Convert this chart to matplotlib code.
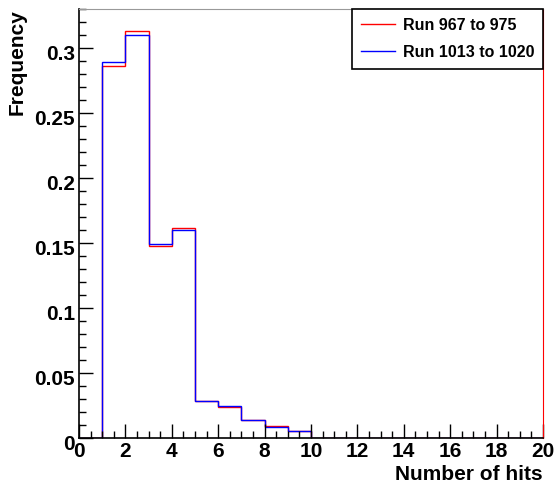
import numpy as np
import matplotlib
matplotlib.use("Agg")
import matplotlib.pyplot as plt
from matplotlib.ticker import MultipleLocator
import matplotlib.transforms as mtransforms

# hit multiplicity, one bin per integer, normalised per run group
bin_edges = np.arange(0, 21)
freq_967_975 = [0.0, 0.2860, 0.3133, 0.1480, 0.1615, 0.0285, 0.0240, 0.0140, 0.0095, 0.0059,
                0, 0, 0, 0, 0, 0, 0, 0, 0, 0]
freq_1013_1020 = [0.0, 0.2895, 0.3100, 0.1495, 0.1600, 0.0285, 0.0246, 0.0140, 0.0087, 0.0059,
                  0, 0, 0, 0, 0, 0, 0, 0, 0, 0]
labels = ["Run 967 to 975", "Run 1013 to 1020"]

plt.rcParams['font.family'] = ['Liberation Sans', 'DejaVu Sans']
plt.rcParams['font.weight'] = 'bold'

fig = plt.figure(figsize=(5.56, 4.86), dpi=100)
ax = fig.add_axes([79/556, 47.7/486, 464/556, 429.3/486])

ax.stairs(freq_967_975, bin_edges, color='#ff0000', lw=1.0, label=labels[0])
ax.stairs(freq_1013_1020, bin_edges, color='#0000ff', lw=1.0, label=labels[1])

ax.set_xlim(0, 20)
ax.set_ylim(0, 0.33)

ax.xaxis.set_major_locator(MultipleLocator(2))
ax.xaxis.set_minor_locator(MultipleLocator(0.5))
ax.yaxis.set_major_locator(MultipleLocator(0.05))
ax.yaxis.set_minor_locator(MultipleLocator(0.01))
ax.yaxis.set_major_formatter(plt.FuncFormatter(lambda v, p: ('%g' % round(v, 3))))

ax.tick_params(which='both', direction='in', labelsize=15, top=False, right=False)
ax.tick_params(which='major', length=10, width=1.0)
ax.tick_params(which='minor', length=5, width=1.0)
ax.tick_params(axis='x', pad=3)
ax.tick_params(axis='y', pad=3)

# y labels sit a little below their ticks
dy = mtransforms.ScaledTranslation(0, -4/100, fig.dpi_scale_trans)
for t in ax.get_yticklabels():
    t.set_transform(t.get_transform() + dy)

ax.spines['top'].set_color('#999999')
ax.spines['right'].set_color('#ff0000')
ax.spines['left'].set_linewidth(1.2)
ax.spines['bottom'].set_linewidth(1.2)

ax.set_xlabel("Number of hits", fontsize=15, fontweight='bold', loc='right')
ax.set_ylabel("Frequency", fontsize=15, fontweight='bold', loc='top')
ax.xaxis.set_label_coords(1.0, -0.062)
ax.yaxis.set_label_coords(-0.112, 1.0)

leg = ax.legend(loc='upper right', bbox_to_anchor=(1.0, 1.0), fancybox=False,
                framealpha=1.0, edgecolor='black', fontsize=11.5, handlelength=2.1,
                handletextpad=0.5, labelspacing=0.75, borderpad=0.55, borderaxespad=0.0,
                prop={'weight': 'bold', 'size': 11.5})
leg.get_frame().set_linewidth(1.2)
leg.set_zorder(5)

fig.savefig("out.png", dpi=100)
